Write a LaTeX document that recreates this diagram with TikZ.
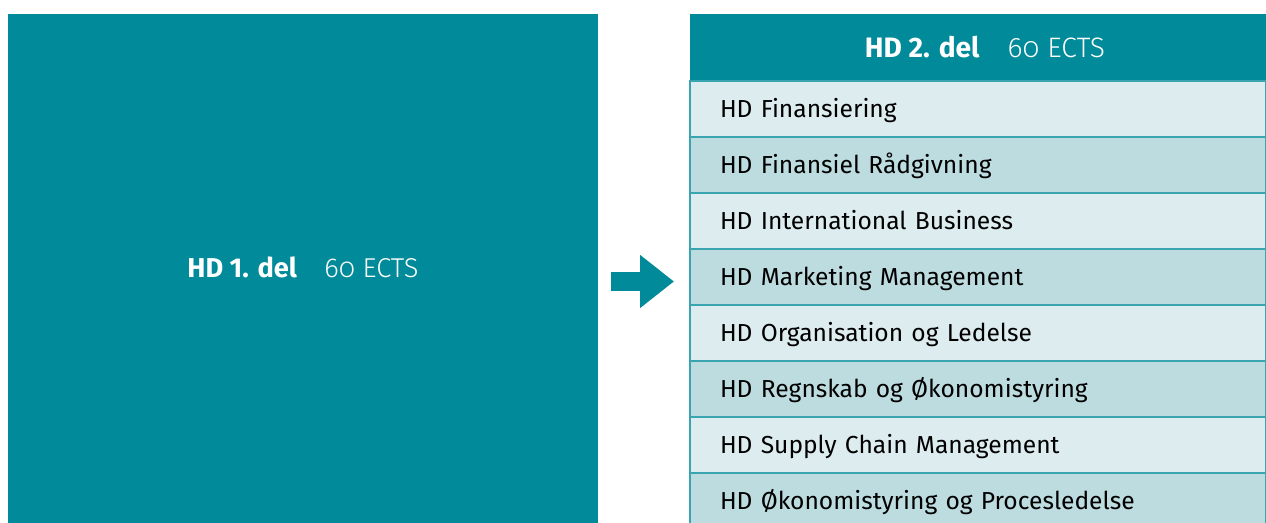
\documentclass[tikz,border=0pt]{standalone}
\usepackage{fontspec}
\setmainfont{Fira Sans}
\newfontfamily\ectsfont{Fira Sans Light}[Numbers=OldStyle]
\usetikzlibrary{positioning, arrows.meta}
\definecolor{hdteal}{HTML}{008A9A}
\definecolor{rowlight}{HTML}{DDECEF}
\definecolor{rowdark}{HTML}{BDDCDF}
\definecolor{rowline}{HTML}{3AA5B1}

\begin{document}
\begin{tikzpicture}[
  block/.style={rectangle, fill=hdteal, text=white, inner sep=0pt, text height=10.7pt, text depth=0pt, font=\fontsize{15.5}{19}\selectfont},
  course/.style={rectangle, draw=rowline, line width=0.8pt, outer sep=0pt, minimum width=11.52cm, minimum height=1.12cm, text width=10.32cm, text height=9.6pt, text depth=0pt, inner xsep=0.6cm, inner ysep=0pt, align=left, font=\fontsize{14}{17}\selectfont},
  light/.style={course, fill=rowlight},
  dark/.style={course, fill=rowdark},
  arrow/.style={line width=0.38cm, draw=hdteal, -{Triangle[length=0.68cm, width=1.02cm]}}
]
  \useasboundingbox (0,0) rectangle (25.32,10.46);

  % Parts
  \node[block, minimum width=11.8cm, minimum height=10.18cm] (partone) at (6.06, 5.09) {\textbf{HD 1. del}\quad{\ectsfont 60 ECTS}};
  \node[block, outer sep=0pt, minimum width=11.52cm, minimum height=1.34cm, text height=11pt, font=\fontsize{16}{19}\selectfont] (parttwo) at (19.56, 9.51) {\hspace*{0.28cm}\textbf{HD 2. del}\quad{\ectsfont 60 ECTS}};

  % Courses
  \node[light, below=0pt of parttwo] (fin) {HD Finansiering};
  \node[dark, below=0pt of fin] (raad) {HD Finansiel Rådgivning};
  \node[light, below=0pt of raad] (intl) {HD International Business};
  \node[dark, below=0pt of intl] (mkt) {HD Marketing Management};
  \node[light, below=0pt of mkt] (org) {HD Organisation og Ledelse};
  \node[dark, below=0pt of org] (regn) {HD Regnskab og Økonomistyring};
  \node[light, below=0pt of regn] (supply) {HD Supply Chain Management};
  \node[dark, below=0pt of supply] (proc) {HD Økonomistyring og Procesledelse};

  \coordinate (arrowin) at ([yshift=-0.09cm]mkt.west);
  \draw[arrow, shorten <=0.26cm, shorten >=0.32cm] (partone.east |- arrowin) -- (arrowin);
\end{tikzpicture}
\end{document}
